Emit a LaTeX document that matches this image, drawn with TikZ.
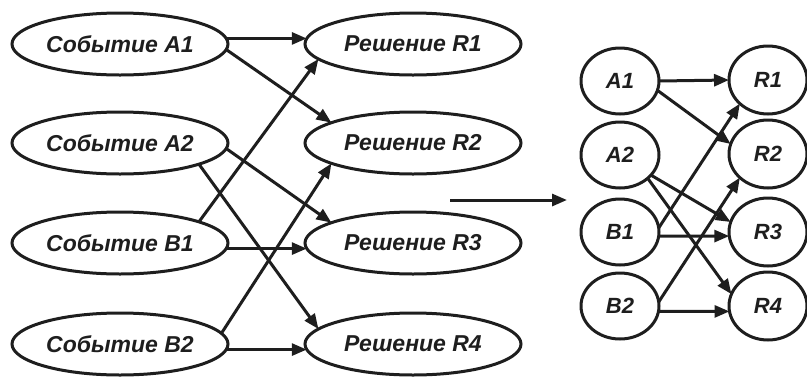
\documentclass[tikz,border=0pt]{standalone}
\usepackage{fontspec}
\setmainfont{Liberation Sans}
\usetikzlibrary{shapes.geometric,arrows.meta}
\begin{document}
\begin{tikzpicture}[x=1pt,y=-1pt,
  big/.style={ellipse,draw=ink,line width=3pt,minimum width=216pt,minimum height=62pt,
    inner sep=0pt,outer sep=0pt,text=ink,font=\fontsize{23}{26}\selectfont\bfseries\itshape},
  small/.style={ellipse,draw=ink,line width=3pt,minimum width=78pt,minimum height=66pt,
    inner sep=0pt,outer sep=0pt,text=ink,font=\fontsize{22}{25}\selectfont\bfseries\itshape},
  arr/.style={draw=ink,line width=3pt,-{Triangle[length=15pt,width=12pt]}}]
\definecolor{ink}{HTML}{1E1E1E}
\useasboundingbox (0,0) rectangle (807,376);
% left part
\node[big] (A1) at (120,44)  {Событие A1};
\node[big] (A2) at (120,143) {Событие A2};
\node[big] (B1) at (120,243) {Событие B1};
\node[big] (B2) at (120,344) {Событие B2};
\node[big] (R1) at (413,44)  {Решение R1};
\node[big] (R2) at (413,143) {Решение R2};
\node[big] (R3) at (413,243) {Решение R3};
\node[big] (R4) at (413,344) {Решение R4};
\draw[arr] (A1.3) -- (R1.177);
\draw[arr] (A1.-3) -- (R2.166);
\draw[arr] (A2.-3) -- (R3.166);
\draw[arr] (A2.-15) -- (R4.171);
\draw[arr] (B1.15) -- (R1.-171);
\draw[arr] (B1.-3) -- (R3.-177);
\draw[arr] (B2.6) -- (R2.-166);
\draw[arr] (B2.-3) -- (R4.-177);
% middle arrow
\coordinate (m1) at (450,200);
\coordinate (m2) at (567,200);
\draw[arr] (m1) -- (m2);
% right part
\node[small] (a1) at (620,81)  {A1};
\node[small] (a2) at (620,155) {A2};
\node[small] (b1) at (620,232) {B1};
\node[small] (b2) at (620,306) {B2};
\node[small,minimum height=68pt] (r1) at (768,80)  {R1};
\node[small,minimum height=68pt] (r2) at (768,154) {R2};
\node[small,minimum height=68pt] (r3) at (768,232) {R3};
\node[small,minimum height=68pt] (r4) at (768,306) {R4};
\draw[arr] (a1.east) -- (r1.west);
\draw[arr] (a1.-14) -- (r2.165);
\draw[arr] (a2.-33) -- (r3.165);
\draw[arr] (a2.-40) -- (r4.162);
\draw[arr] (b1.6) -- (r1.-140);
\draw[arr] (b1.-6) -- (r3.-174);
\draw[arr] (b2.6) -- (r2.-140);
\draw[arr] (b2.-8) -- (r4.-172);
\end{tikzpicture}
\end{document}
